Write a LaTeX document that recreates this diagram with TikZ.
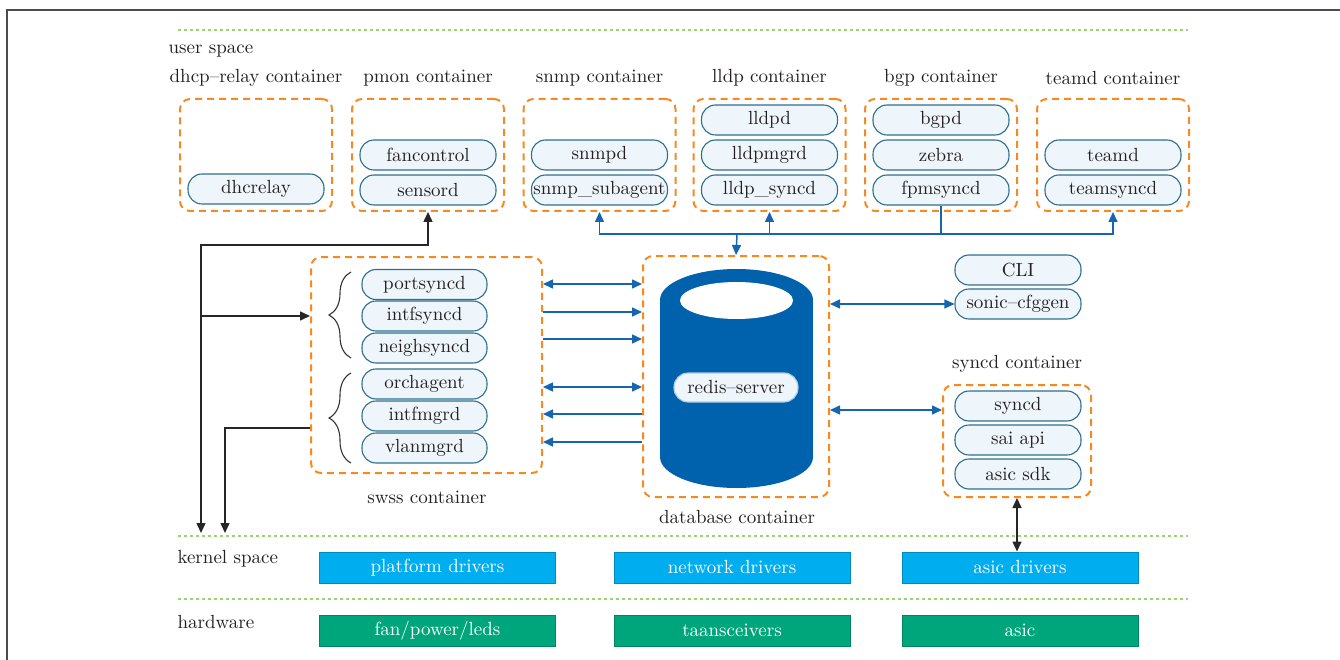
\documentclass[tikz,border=0pt]{standalone}
\usepackage{fontspec}
\setmainfont{lmroman10-regular.otf}
\usepackage{xcolor}
\usetikzlibrary{arrows.meta,decorations.pathreplacing}
\definecolor{boxorange}{HTML}{F7891F}
\definecolor{procfill}{HTML}{EEF6FC}
\definecolor{procline}{HTML}{2C6E8E}
\definecolor{linkblue}{HTML}{1565B0}
\definecolor{dbblue}{HTML}{0062AC}
\definecolor{kernelcyan}{HTML}{00AEEF}
\definecolor{hwgreen}{HTML}{00A67B}
\definecolor{layergreen}{HTML}{9AD66E}
\definecolor{textgray}{HTML}{231F20}
\tikzset{
  box/.style={draw=boxorange,dash pattern=on 7pt off 5pt,line width=2pt,
    rounded corners=10pt},
  proc/.style={draw=procline,fill=procfill,line width=1.1pt,rounded corners=14pt,
    minimum width=136pt,minimum height=30pt,inner xsep=0pt,inner ysep=0pt},
  title/.style={text=textgray},
  link/.style={draw=linkblue,line width=1.5pt},
  ctl/.style={draw=black!85,line width=1.5pt},
  layer/.style={draw=layergreen,line width=1.5pt,dash pattern=on 3pt off 3pt},
  drv/.style={draw=#1!80!black,fill=#1,text=white,line width=1pt,
    minimum width=236pt,minimum height=31pt,inner sep=0pt},
  curly/.style={draw=black!80,line width=1.1pt,decorate,
    decoration={brace,amplitude=22pt}}
}

\begin{document}
\begin{tikzpicture}[x=1pt,y=-1pt,font=\fontsize{19}{23}\selectfont,
  text=textgray,>={Triangle[length=10pt,width=9pt]}]
  \useasboundingbox (0,0) rectangle (1340,660);
  \draw[draw=black!70,line width=2pt] (7,660) -- (7,10) -- (1340,10);

  % layer separators
  \draw[layer] (178,30) -- (1188,30);
  \draw[layer] (178,536) -- (1188,536);
  \draw[layer] (178,599) -- (1188,599);
  \node[title,anchor=west] (user) at (165,51) {user space};
  \node[title,anchor=west] (kern) at (174,559) {kernel space};
  \node[title,anchor=west] (hw) at (174,622) {hardware};

  % top row of containers
  \foreach \c/\x/\t in {dhcp/256/dhcp--relay,pmon/428/pmon,snmp/599.5/snmp,
      lldp/769.5/lldp,bgp/941/bgp,teamd/1113/teamd} {
    \node[box,minimum width=152pt,minimum height=112pt] (\c) at (\x,155) {};
    \node[title] (\c-t) at ([yshift=20pt]\c.north) {\t\ container};
  }
  \node[proc] (dhcrelay) at (256,189) {dhcrelay};
  \node[proc] (fancontrol) at (428,155) {fancontrol};
  \node[proc] (sensord) at (428,190) {sensord};
  \node[proc] (snmpd) at (599.5,155) {snmpd};
  \node[proc] (subagent) at (599.5,190) {snmp\_subagent};
  \node[proc] (lldpd) at (769.5,120) {lldpd};
  \node[proc] (lldpmgrd) at (769.5,155) {lldpmgrd};
  \node[proc] (lldpsyncd) at (769.5,190) {lldp\_syncd};
  \node[proc] (bgpd) at (941,120) {bgpd};
  \node[proc] (zebra) at (941,155) {zebra};
  \node[proc] (fpmsyncd) at (941,190) {fpmsyncd};
  \node[proc] (teamdp) at (1113,155) {teamd};
  \node[proc] (teamsyncd) at (1113,190) {teamsyncd};

  % swss
  \node[box,minimum width=231pt,minimum height=216pt] (swss) at (426.5,365) {};
  \node[title] (swss-t) at (427,497) {swss container};
  \foreach \n/\y in {portsyncd/284.5,intfsyncd/316,neighsyncd/348,
      orchagent/384,intfmgrd/416,vlanmgrd/448}
    \node[proc,minimum width=125pt] (\n) at (424.5,\y) {\n};
  \draw[curly] (351,358) -- (351,272);
  \draw[curly] (351,463) -- (351,373);

  % database
  \node[box,minimum width=186pt,minimum height=241pt] (db) at (736,376.5) {};
  \node[title] (db-t) at (737,517) {database container};
  \fill[dbblue] (660,300) rectangle (813,457);
  \fill[dbblue] (736.5,300) ellipse [x radius=76.5pt,y radius=31pt];
  \fill[dbblue] (736.5,457) ellipse [x radius=76.5pt,y radius=31pt];
  \fill[white] (736.5,300.5) ellipse [x radius=56.5pt,y radius=18.5pt];
  \node[proc,draw=procfill!70!dbblue,minimum width=124pt,minimum height=29pt]
    (redis) at (736,387.5) {redis--server};

  % right side
  \node[proc,minimum width=126pt] (cli) at (1018,270) {CLI};
  \node[proc,minimum width=126pt] (cfggen) at (1018,304) {sonic--cfggen};
  \node[box,minimum width=148pt,minimum height=112pt] (syncdbox) at (1017,441) {};
  \node[title] (syncdbox-t) at (1017,364) {syncd container};
  \node[proc,minimum width=126pt] (syncd) at (1018,406) {syncd};
  \node[proc,minimum width=126pt] (saiapi) at (1018,440) {sai api};
  \node[proc,minimum width=126pt] (asicsdk) at (1018,474) {asic sdk};

  % kernel and hardware
  \node[drv=kernelcyan] (platdrv) at (437.5,567.5) {platform drivers};
  \node[drv=kernelcyan] (netdrv) at (732,567.5) {network drivers};
  \node[drv=kernelcyan] (asicdrv) at (1020,567.5) {asic drivers};
  \node[drv=hwgreen] (fan) at (437.5,630.5) {fan/power/leds};
  \node[drv=hwgreen] (trx) at (732,630.5) {taansceivers};
  \node[drv=hwgreen] (asic) at (1020,630.5) {asic};

  % redis bus to the top containers
  \coordinate (bus) at (737,234);
  \draw[link,->] (bus) -| (snmp.south);
  \draw[link,->] (bus) -| (lldp.south);
  \draw[link,->] (bus) -| (teamd.south);
  \draw[link] (bus) -| (fpmsyncd.south);
  \draw[link,->] (bus) -- (db.north);

  % swss <-> database
  \foreach \y/\dir in {284/<->,312/->,339/->,387/<->,414/<-,442/<-}
    \draw[link,\dir] (swss.east |- 0,\y) -- (db.west |- 0,\y);
  \draw[link,<->] (db.east |- cfggen) -- (cfggen.west);
  \draw[link,<->] (db.east |- 0,410) -- (syncdbox.west |- 0,410);

  % kernel links
  \coordinate (k1) at (201,533);
  \coordinate (k2) at (225,533);
  \draw[ctl,<->] (pmon.south) |- (201,245) -- (k1);
  \draw[ctl,->] (201,316) -- (201,316 -| swss.west);
  \draw[ctl,->] (swss.west |- 0,428) -| (k2);
  \draw[ctl,<->] (syncdbox.south) -- (syncdbox.south |- asicdrv.north);
\end{tikzpicture}
\end{document}
